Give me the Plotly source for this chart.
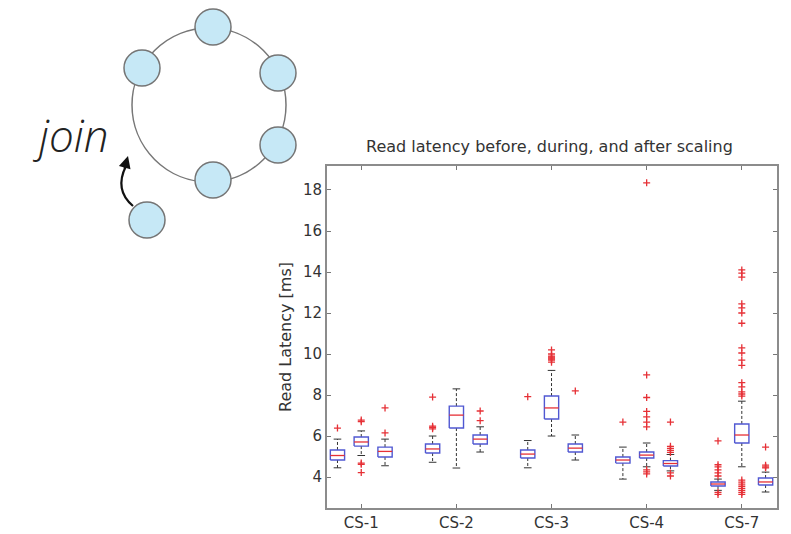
import plotly.graph_objects as go

# ---------------- data ----------------
categories = ["CS-1", "CS-2", "CS-3", "CS-4", "CS-7"]
phases = ["before", "during", "after"]

# per phase, one value per category
q1 = {
    "before": [4.83, 5.17, 4.93, 4.68, 3.56],
    "during": [5.51, 6.39, 6.83, 4.93, 5.66],
    "after":  [4.98, 5.61, 5.22, 4.54, 3.61],
}
median = {
    "before": [5.05, 5.37, 5.12, 4.83, 3.66],
    "during": [5.71, 7.02, 7.37, 5.07, 6.05],
    "after":  [5.25, 5.85, 5.41, 4.66, 3.76],
}
q3 = {
    "before": [5.32, 5.61, 5.32, 4.98, 3.76],
    "during": [5.95, 7.46, 7.95, 5.22, 6.59],
    "after":  [5.46, 6.05, 5.61, 4.80, 3.95],
}
lower_whisker = {
    "before": [4.45, 4.72, 4.45, 3.90, 3.35],
    "during": [5.05, 4.44, 6.00, 4.50, 4.50],
    "after":  [4.55, 5.22, 4.83, 4.30, 3.27],
}
upper_whisker = {
    "before": [5.85, 6.00, 5.78, 5.46, 3.90],
    "during": [6.25, 8.30, 9.20, 5.66, 7.70],
    "after":  [5.85, 6.45, 6.05, 5.10, 4.24],
}
outliers = {
    "before": [
        [6.39],
        [6.35, 6.42, 6.48, 7.90],
        [7.92],
        [6.68],
        [3.15, 3.25, 4.05, 4.20, 4.35, 4.50, 4.60, 5.76],
    ],
    "during": [
        [4.22, 4.62, 4.68, 6.70, 6.78],
        [],
        [9.60, 9.70, 9.75, 9.80, 9.85, 9.90, 10.00, 10.20],
        [4.15, 4.25, 4.35, 6.45, 6.68, 6.93, 7.20, 7.88, 8.98, 18.35],
        [3.15, 3.25, 3.35, 3.45, 3.55, 3.65, 3.75, 3.85,
         7.95, 8.05, 8.15, 8.40, 8.60, 9.45, 9.70, 10.05, 10.30,
         11.50, 12.00, 12.25, 12.45, 13.75, 13.95, 14.10],
    ],
    "after": [
        [6.15, 7.37],
        [6.75, 7.22],
        [8.20],
        [4.05, 4.20, 5.20, 5.30, 5.40, 5.50, 6.68],
        [4.45, 4.50, 4.58, 5.46],
    ],
}
y_ticks = [4, 6, 8, 10, 12, 14, 16, 18]

# ---------------- styling ----------------
W, H = 791, 534
BLUE = "#5058d2"
RED = "#e63036"
BLACK = "#333333"
offsets = {"before": -0.25, "during": 0.0, "after": 0.25}
half_w = 0.075
cap_w = 0.04

fig = go.Figure()

for p in phases:
    bx, by, mx, my, wx, wy, cx, cy, ox, oy = [], [], [], [], [], [], [], [], [], []
    for k in range(len(categories)):
        x = k + offsets[p]
        a, m, b = q1[p][k], median[p][k], q3[p][k]
        lo, hi = lower_whisker[p][k], upper_whisker[p][k]
        bx += [x - half_w, x + half_w, x + half_w, x - half_w, x - half_w, None]
        by += [a, a, b, b, a, None]
        mx += [x - half_w, x + half_w, None]
        my += [m, m, None]
        wx += [x, x, None, x, x, None]
        wy += [b, hi, None, a, lo, None]
        cx += [x - cap_w, x + cap_w, None, x - cap_w, x + cap_w, None]
        cy += [hi, hi, None, lo, lo, None]
        for v in outliers[p][k]:
            ox.append(x)
            oy.append(v)
    fig.add_trace(go.Scatter(x=wx, y=wy, mode="lines",
                             line=dict(color=BLACK, width=1, dash="3px,2px"),
                             hoverinfo="skip", showlegend=False))
    fig.add_trace(go.Scatter(x=cx, y=cy, mode="lines",
                             line=dict(color=BLACK, width=1),
                             hoverinfo="skip", showlegend=False))
    fig.add_trace(go.Scatter(x=bx, y=by, mode="lines",
                             line=dict(color=BLUE, width=1.4),
                             hoverinfo="skip", showlegend=False))
    fig.add_trace(go.Scatter(x=mx, y=my, mode="lines",
                             line=dict(color=RED, width=1.3),
                             hoverinfo="skip", showlegend=False))
    fig.add_trace(go.Scatter(x=ox, y=oy, mode="markers",
                             marker=dict(symbol="cross-thin", size=5,
                                         line=dict(width=1.3, color=RED)),
                             hoverinfo="skip", showlegend=False))

# ---------------- layout ----------------
def px(x):
    return x / W

def py(y):
    return 1 - y / H

FONT = "DejaVu Sans, Liberation Sans, Arial, sans-serif"
axis_font = dict(family=FONT, size=15, color="#333333")

fig.update_layout(
    width=W, height=H,
    margin=dict(l=0, r=0, t=0, b=0),
    paper_bgcolor="white", plot_bgcolor="white",
    showlegend=False,
    xaxis=dict(domain=[px(327), px(777)], range=[-0.36, 4.37],
               tickvals=list(range(len(categories))), ticktext=categories,
               ticks="inside", ticklen=4, tickcolor="#777", mirror="ticks",
               showline=True, linecolor="#8c8c8c", linewidth=2,
               showgrid=False, zeroline=False, tickfont=axis_font,
               automargin=False),
    yaxis=dict(domain=[py(508), py(166)], range=[2.49, 19.17],
               tickvals=y_ticks, ticktext=[str(v) for v in y_ticks],
               ticks="inside", ticklen=4, tickcolor="#777", mirror="ticks",
               showline=True, linecolor="#8c8c8c", linewidth=2,
               showgrid=False, zeroline=False, tickfont=axis_font,
               automargin=False),
)

annotations = [
    dict(text="Read latency before, during, and after scaling",
         x=px(549), y=py(146), xref="paper", yref="paper",
         xanchor="center", yanchor="middle",
         showarrow=False, font=dict(family=FONT, size=16, color="#333333")),
    dict(text="Read Latency [ms]", x=px(285), y=py(337), xref="paper", yref="paper",
         xanchor="center", yanchor="middle",
         textangle=-90, showarrow=False,
         font=dict(family=FONT, size=16, color="#333333")),
    dict(text="<i>join</i>", x=px(70), y=py(135), xref="paper", yref="paper",
         xanchor="center", yanchor="middle",
         showarrow=False,
         font=dict(family="Open Sans, Lato, sans-serif", size=44, color="#222222",
                   weight=300)),
    # arrow head of the join arrow
    dict(text="", x=px(128), y=py(156), xref="paper", yref="paper",
         ax=-4, ay=14, showarrow=True, arrowhead=2, arrowsize=1.2,
         arrowwidth=2, arrowcolor="#111111"),
]
fig.update_layout(annotations=annotations)

# ---------------- ring diagram (decoration) ----------------
ring_c = (209, 105)
ring_r = 77
node_r = 18
ring_nodes = [(213, 27), (142, 68), (278, 73), (278, 145), (213, 180)]
join_node = (147, 220)

shapes = []
shapes.append(dict(type="circle", xref="paper", yref="paper",
                   x0=px(ring_c[0] - ring_r), x1=px(ring_c[0] + ring_r),
                   y0=py(ring_c[1] + ring_r), y1=py(ring_c[1] - ring_r),
                   line=dict(color="#777777", width=1.5), fillcolor="rgba(0,0,0,0)",
                   layer="above"))
# curved arrow shaft
shapes.append(dict(type="path", xref="paper", yref="paper",
                   path=f"M {px(133)} {py(206)} Q {px(114)} {py(190)} {px(126)} {py(166)}",
                   line=dict(color="#111111", width=2.2), layer="above"))
for (cx_, cy_) in ring_nodes + [join_node]:
    shapes.append(dict(type="circle", xref="paper", yref="paper",
                       x0=px(cx_ - node_r), x1=px(cx_ + node_r),
                       y0=py(cy_ + node_r), y1=py(cy_ - node_r),
                       line=dict(color="#757575", width=1.5),
                       fillcolor="#c6e8f6", layer="above"))
fig.update_layout(shapes=shapes)

fig.write_html("out.html")
